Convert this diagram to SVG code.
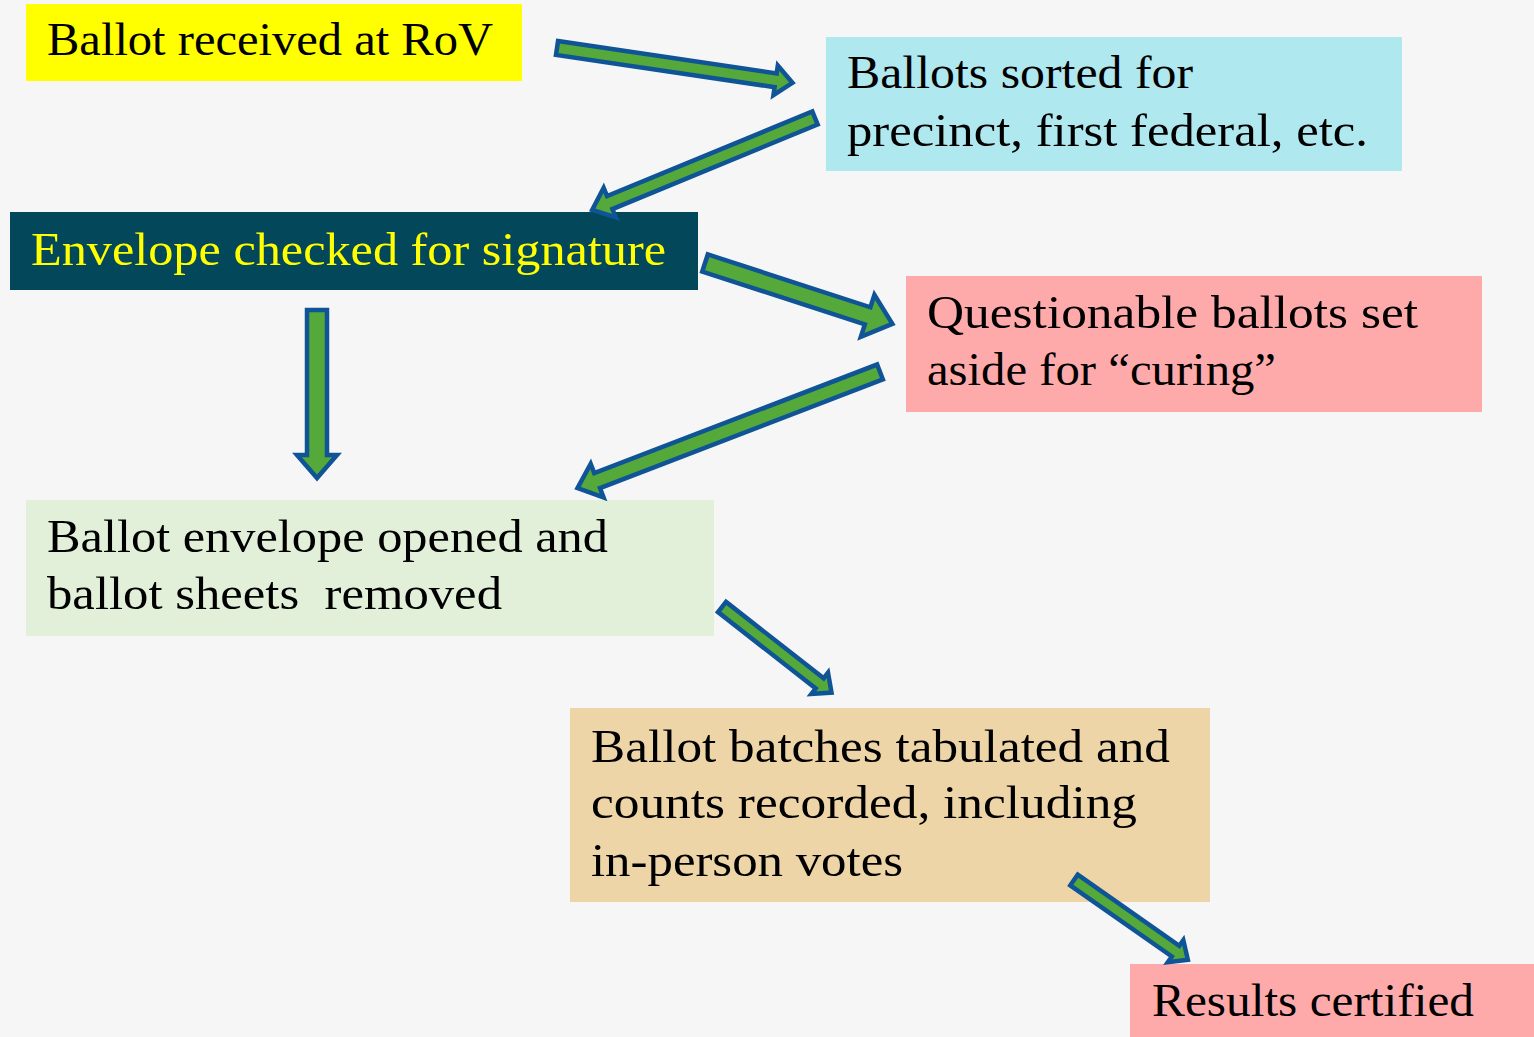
<svg xmlns="http://www.w3.org/2000/svg" width="1534" height="1037" viewBox="0 0 1534 1037">
<style>
text{font-family:"Liberation Serif","DejaVu Serif",serif;font-size:46px;fill:#000}
.arr{fill:#55A83A;stroke:#0F5496;stroke-width:4.5;stroke-linejoin:miter}
</style>
<rect x="0" y="0" width="1534" height="1037" fill="#F6F6F6"/>
<g id="n1"><rect x="26" y="4" width="496" height="77" fill="#FFFF00"/><text x="47" y="55" textLength="446" lengthAdjust="spacingAndGlyphs">Ballot received at RoV</text></g>
<g id="n2"><rect x="826" y="37" width="576" height="134" fill="#B0E8F0"/><text x="847" y="88" textLength="346" lengthAdjust="spacingAndGlyphs">Ballots sorted for</text><text x="847" y="146" textLength="521" lengthAdjust="spacingAndGlyphs">precinct, first federal, etc.</text></g>
<g id="n3"><rect x="10" y="212" width="688" height="78" fill="#02475A"/><text x="31" y="265" textLength="635" lengthAdjust="spacingAndGlyphs" style="fill:#FFFF00">Envelope checked for signature</text></g>
<g id="n4"><rect x="906" y="276" width="576" height="136" fill="#FFAAAA"/><text x="927" y="328" textLength="491" lengthAdjust="spacingAndGlyphs">Questionable ballots set</text><text x="927" y="385" textLength="349" lengthAdjust="spacingAndGlyphs">aside for “curing”</text></g>
<g id="n5"><rect x="26" y="500" width="688" height="136" fill="#E2F0DA"/><text x="47" y="552" textLength="561" lengthAdjust="spacingAndGlyphs">Ballot envelope opened and</text><text x="47" y="609" textLength="455" lengthAdjust="spacingAndGlyphs" xml:space="preserve">ballot sheets  removed</text></g>
<g id="n6"><rect x="570" y="708" width="640" height="194" fill="#EDD5A8"/><text x="591" y="762" textLength="579" lengthAdjust="spacingAndGlyphs">Ballot batches tabulated and</text><text x="591" y="818" textLength="546" lengthAdjust="spacingAndGlyphs">counts recorded, including</text><text x="591" y="876" textLength="312" lengthAdjust="spacingAndGlyphs">in-person votes</text></g>
<g id="n7"><rect x="1130" y="964" width="404" height="73" fill="#FFAAAA"/><text x="1152" y="1016" textLength="322" lengthAdjust="spacingAndGlyphs">Results certified</text></g>
<g id="connectors">
<polygon class="arr" transform="translate(557,48) rotate(8.4)" points="0,-7 221,-7 221,-15 238,0 221,15 221,7 0,7"/>
<polygon class="arr" transform="translate(815,118) rotate(157.6)" points="0,-7 222,-7 222,-16 241,0 222,16 222,7 0,7"/>
<polygon class="arr" transform="translate(317,310) rotate(90)" points="0,-10 145,-10 145,-20 168,0 145,20 145,10 0,10"/>
<polygon class="arr" transform="translate(705,263) rotate(18)" points="0,-9 171,-9 171,-22 197,0 171,22 171,9 0,9"/>
<polygon class="arr" transform="translate(880,372) rotate(159)" points="0,-8 303,-8 303,-18 324,0 303,18 303,8 0,8"/>
<polygon class="arr" transform="translate(722,607) rotate(38)" points="0,-6.5 124,-6.5 124,-13.5 139,0 124,13.5 124,6.5 0,6.5"/>
<polygon class="arr" transform="translate(1074,880) rotate(35)" points="0,-6.5 124,-6.5 124,-13.5 139,0 124,13.5 124,6.5 0,6.5"/>
</g>
</svg>
